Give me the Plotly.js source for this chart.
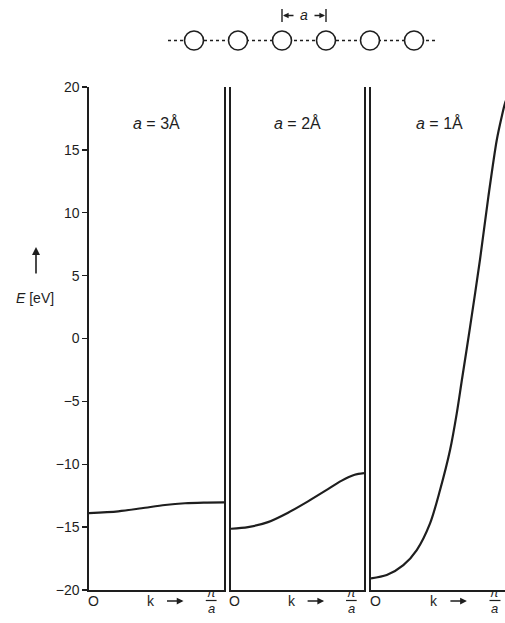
<!DOCTYPE html>
<html>
<head>
<meta charset="utf-8">
<script src="https://cdn.plot.ly/plotly-3.0.1.min.js"></script>
<style>
html,body{margin:0;padding:0;background:#fff;overflow:hidden;width:505px;height:623px;}
#chart{width:512px;height:623px;}
</style>
</head>
<body>
<div id="chart"></div>
<script>
// ---- data ----
const panelTitles = ["<i>a</i> = 3Å", "<i>a</i> = 2Å", "<i>a</i> = 1Å"];
const yTicks = [-20, -15, -10, -5, 0, 5, 10, 15, 20];
const yTickText = ["−20", "−15", "−10", "−5", "0", "5", "10", "15", "20"];
const k1 = [0, 0.217, 0.39, 0.563, 0.711, 0.85, 1.0];
const e1 = [-13.88, -13.74, -13.5, -13.24, -13.1, -13.05, -13.03];
const k2 = [0, 0.128, 0.278, 0.429, 0.579, 0.729, 0.829, 0.93, 1.0];
const e2 = [-15.13, -15.0, -14.6, -13.85, -12.95, -11.98, -11.32, -10.84, -10.71];
const k3 = [0, 0.115, 0.236, 0.334, 0.431, 0.504, 0.577, 0.626, 0.662, 0.723, 0.796, 0.857, 0.918, 0.954, 0.978, 1.0];
const e3 = [-19.07, -18.81, -18.02, -16.82, -14.7, -12.05, -8.87, -5.95, -3.4, 0.9, 6.3, 11.3, 15.79, 17.64, 18.7, 19.3];

// ---- layout helpers ----
const W = 512, H = 623;
const px = x => x / W;
const py = y => 1 - y / H;
const ink = "#1e1e1e";
const FONT = '"Liberation Sans", Arial, sans-serif';

const panels = [[89, 224], [231, 364], [371, 508]];
const yDom = [py(590), py(87)];

const curves = [[k1, e1], [k2, e2], [k3, e3]];
const data = curves.map((c, i) => ({
  x: c[0], y: c[1], type: "scatter", mode: "lines",
  line: {color: ink, width: 2.2, shape: "spline", smoothing: 0.85},
  xaxis: i === 0 ? "x" : "x" + (i + 1),
  yaxis: i === 0 ? "y" : "y" + (i + 1),
  hoverinfo: "skip", showlegend: false
}));

const layout = {
  width: W, height: H,
  margin: {l: 0, r: 0, t: 0, b: 0},
  paper_bgcolor: "#fff", plot_bgcolor: "#fff",
  font: {family: FONT, color: ink, size: 13},
  showlegend: false,
  annotations: [], shapes: []
};

function label(text, xref, x, y, size, extra) {
  return Object.assign({text: text, xref: xref, yref: "paper", x: x, y: py(y),
    xanchor: "center", yanchor: "middle", showarrow: false,
    font: {size: size, family: FONT, color: ink}}, extra || {});
}

panels.forEach((p, i) => {
  const s = i === 0 ? "" : String(i + 1);
  layout["xaxis" + s] = {
    domain: [px(p[0]), px(p[1])], range: [0, 1], anchor: "y" + s,
    showline: true, linecolor: ink, linewidth: 1.6, mirror: false,
    showgrid: false, zeroline: false, showticklabels: false, ticks: "",
    fixedrange: true
  };
  layout["yaxis" + s] = {
    domain: yDom, range: [-20, 20], anchor: "x" + s,
    showline: true, linecolor: ink, linewidth: 1.6, mirror: true,
    showgrid: false, zeroline: false,
    ticks: i === 0 ? "outside" : "", ticklen: 5, tickwidth: 1.4, tickcolor: ink,
    tickvals: yTicks, ticktext: yTickText,
    showticklabels: i === 0, tickfont: {family: FONT, size: 14, color: ink},
    automargin: false, fixedrange: true
  };
  const xr = i === 0 ? "x" : "x" + (i + 1);
  layout.annotations.push(label(panelTitles[i], xr + " domain", 0.5, 123, 16));
  layout.annotations.push(label("O", xr, 0.03, 601, 14));
  layout.annotations.push(label("k", xr, 0.46, 601, 14));
  layout.annotations.push({text: "", xref: xr, yref: "paper", x: 0.7, y: py(601),
    ax: -18, ay: 0, showarrow: true, arrowhead: 2, arrowsize: 0.9, arrowwidth: 1.5, arrowcolor: ink});
  layout.annotations.push(label("<i>π</i>", xr, 0.905, 592.5, 13));
  layout.annotations.push(label("<i>a</i>", xr, 0.905, 608, 13));
  layout.shapes.push({type: "line", xref: xr + " domain", yref: "paper",
    x0: 0.865, x1: 0.945, y0: py(600.5), y1: py(600.5), line: {color: ink, width: 1.2}});
});

// E [eV] axis label with arrow
layout.annotations.push(label("<i>E</i> [eV]", "paper", px(35), 298, 14));
layout.annotations.push({text: "", xref: "paper", yref: "paper", x: px(36), y: py(247),
  ax: 0, ay: 28, showarrow: true, arrowhead: 2, arrowsize: 1, arrowwidth: 1.6, arrowcolor: ink});

// atom chain sketch at the top
const chainY = 40.5;
layout.shapes.push({type: "line", xref: "paper", yref: "paper",
  x0: px(168), x1: px(438), y0: py(chainY), y1: py(chainY),
  line: {color: ink, width: 1.5, dash: "dot"}});
for (let i = 0; i < 6; i++) {
  const cx = 194 + i * 44;
  layout.shapes.push({type: "circle", xref: "paper", yref: "paper",
    x0: px(cx - 9.5), x1: px(cx + 9.5), y0: py(chainY + 9.5), y1: py(chainY - 9.5),
    fillcolor: "#fff", line: {color: ink, width: 1.6}});
}
// lattice constant bracket
[282, 326].forEach(bx => layout.shapes.push({type: "line", xref: "paper", yref: "paper",
  x0: px(bx), x1: px(bx), y0: py(9), y1: py(22), line: {color: ink, width: 1.4}}));
layout.annotations.push(label("<i>a</i>", "paper", px(304), 15, 14));
layout.annotations.push({text: "", xref: "paper", yref: "paper", x: px(283), y: py(15.5),
  ax: 12, ay: 0, showarrow: true, arrowhead: 2, arrowsize: 0.8, arrowwidth: 1.4, arrowcolor: ink});
layout.annotations.push({text: "", xref: "paper", yref: "paper", x: px(325), y: py(15.5),
  ax: -12, ay: 0, showarrow: true, arrowhead: 2, arrowsize: 0.8, arrowwidth: 1.4, arrowcolor: ink});

Plotly.newPlot("chart", data, layout, {staticPlot: true, displayModeBar: false});
</script>
</body>
</html>
